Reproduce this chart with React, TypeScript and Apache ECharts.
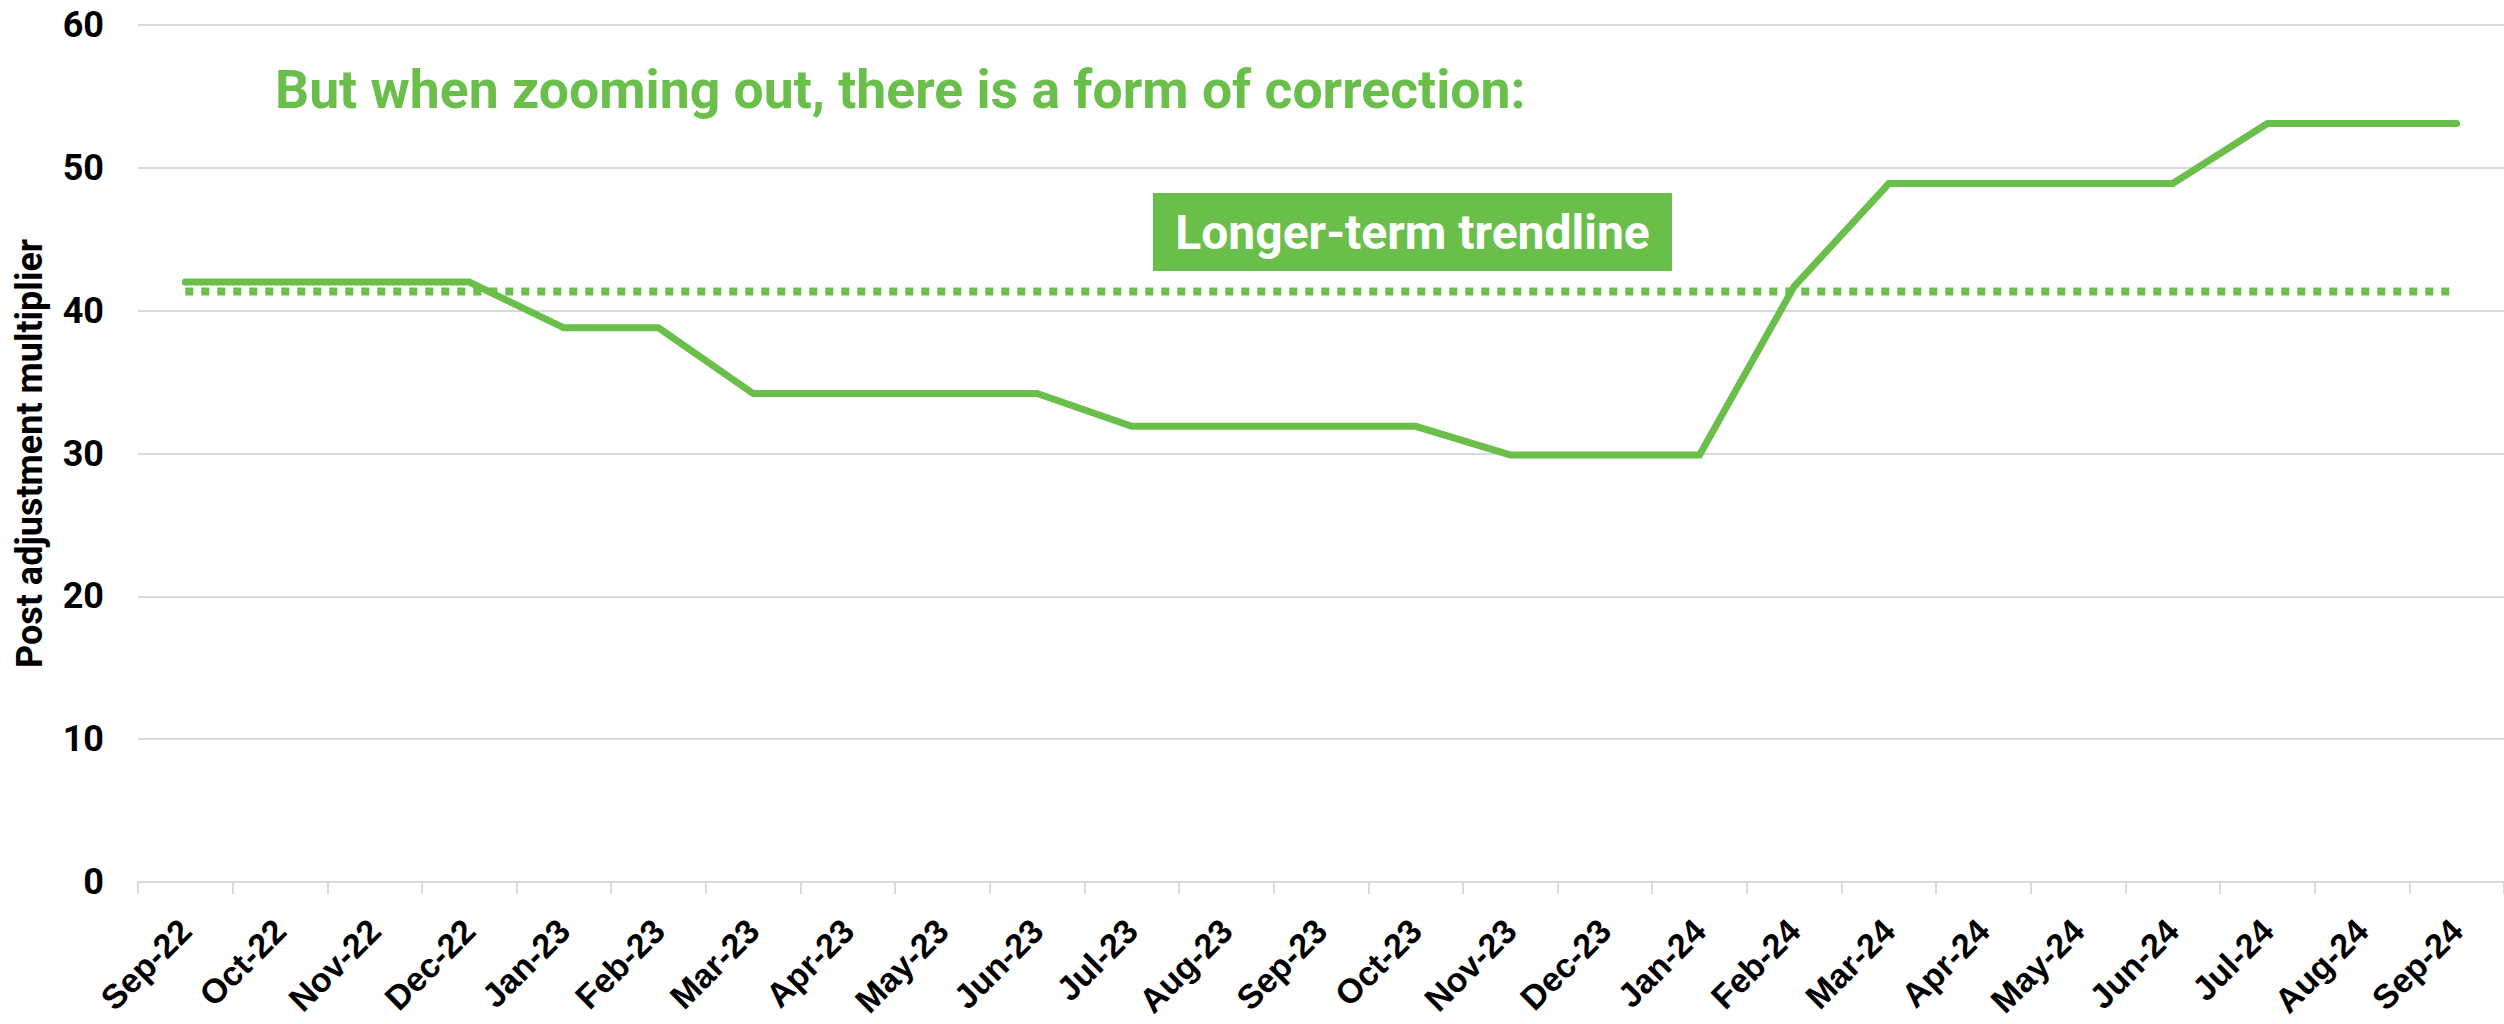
import React, { useEffect, useRef } from "react";
import * as echarts from "echarts";

const categories = [
  "Sep-22", "Oct-22", "Nov-22", "Dec-22", "Jan-23", "Feb-23", "Mar-23", "Apr-23",
  "May-23", "Jun-23", "Jul-23", "Aug-23", "Sep-23", "Oct-23", "Nov-23", "Dec-23",
  "Jan-24", "Feb-24", "Mar-24", "Apr-24", "May-24", "Jun-24", "Jul-24", "Aug-24", "Sep-24",
];

const multiplier = [
  42.0, 42.0, 42.0, 42.0, 38.8, 38.8, 34.2, 34.2,
  34.2, 34.2, 31.9, 31.9, 31.9, 31.9, 29.9, 29.9,
  29.9, 41.7, 48.9, 48.9, 48.9, 48.9, 53.1, 53.1, 53.1,
];

const trendValue = 41.35;
const trendline = categories.map(() => trendValue);

const yTicks = { min: 0, max: 60, interval: 10 };

const titleText = "But when zooming out, there is a form of correction:";
const boxText = "Longer-term trendline";
const yAxisName = "Post adjustment multiplier";

const GREEN = "#6ABF4B";
const GRID = "#D9D9D9";

export default function App() {
  const ref = useRef<HTMLDivElement>(null);

  useEffect(() => {
    if (!ref.current) return;
    const chart = echarts.init(ref.current, undefined, { renderer: "svg" });
    chart.setOption({
      animation: false,
      backgroundColor: "#ffffff",
      grid: { left: 138, right: 0, top: 25, bottom: 142, containLabel: false },
      xAxis: {
        type: "category",
        data: categories,
        boundaryGap: true,
        axisLine: { show: true, lineStyle: { color: GRID, width: 2 } },
        axisTick: { show: true, length: 12, interval: 0, lineStyle: { color: GRID, width: 2 } },
        axisLabel: {
          interval: 0,
          rotate: 45,
          margin: 43,
          color: "#000000",
          fontFamily: "Liberation Sans",
          fontWeight: "bold",
          fontSize: 34,
        },
        splitLine: { show: false },
      },
      yAxis: {
        type: "value",
        min: yTicks.min,
        max: yTicks.max,
        interval: yTicks.interval,
        name: yAxisName,
        nameLocation: "middle",
        nameGap: 90,
        nameTextStyle: {
          color: "#000000",
          fontFamily: "Roboto",
          fontWeight: "bold",
          fontSize: 36,
        },
        axisLine: { show: false },
        axisTick: { show: false },
        axisLabel: {
          margin: 34,
          color: "#000000",
          fontFamily: "Roboto",
          fontWeight: "bold",
          fontSize: 36,
        },
        splitLine: { show: true, lineStyle: { color: GRID, width: 2 } },
      },
      series: [
        {
          name: "Trendline",
          type: "line",
          data: trendline,
          symbol: "none",
          z: 2,
          lineStyle: { color: GREEN, width: 8, type: [8, 8], cap: "butt" },
        },
        {
          name: "Multiplier",
          type: "line",
          data: multiplier,
          symbol: "none",
          z: 3,
          lineStyle: { color: GREEN, width: 7, cap: "round", join: "miter" },
        },
      ],
      graphic: [
        {
          type: "text",
          left: 275,
          top: 62,
          style: {
            text: titleText,
            fill: GREEN,
            font: "bold 53.5px Roboto",
          },
        },
        {
          type: "rect",
          shape: { x: 1153, y: 193, width: 519, height: 78 },
          style: { fill: GREEN },
        },
        {
          type: "text",
          x: 1412.5,
          y: 232,
          style: {
            text: boxText,
            fill: "#ffffff",
            font: "bold 48px Roboto",
            align: "center",
            verticalAlign: "middle",
          },
        },
      ],
    });
    return () => chart.dispose();
  }, []);

  return (
    <div
      ref={ref}
      style={{ position: "fixed", left: 0, top: 0, width: 2504, height: 1024, background: "#fff" }}
    />
  );
}
